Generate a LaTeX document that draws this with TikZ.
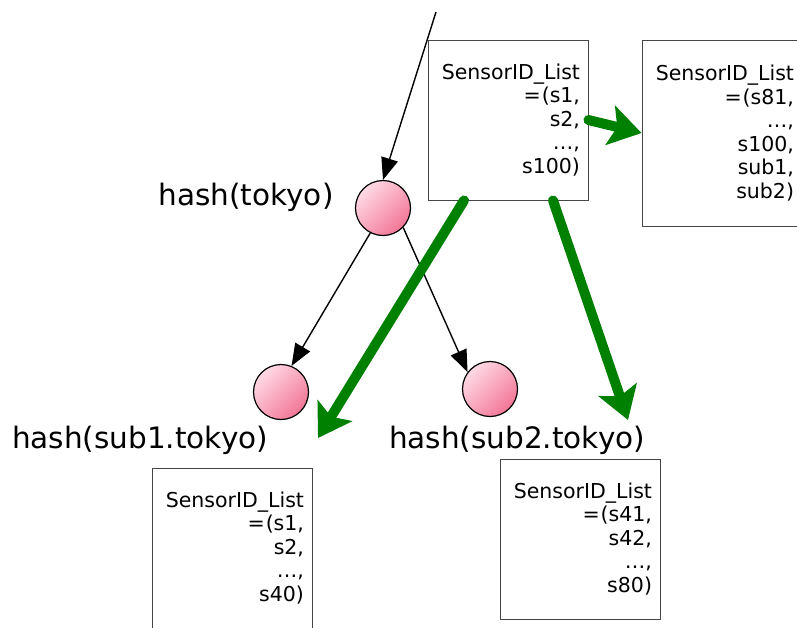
\documentclass[tikz,border=0pt]{standalone}
\usepackage{fontspec}
\setmainfont{DejaVu Sans}
\usetikzlibrary{arrows.meta}
\definecolor{flowgreen}{RGB}{0,128,0}
\definecolor{ballhi}{RGB}{255,218,230}
\definecolor{ballmid}{RGB}{250,165,188}
\definecolor{balllo}{RGB}{242,118,150}
\definecolor{boxline}{RGB}{70,70,70}

\begin{document}
\begin{tikzpicture}[
    x=1pt,y=-1pt,
    hashnode/.style={circle,draw,line width=1.2pt,minimum size=55pt,inner sep=0pt,
      top color=ballhi,middle color=ballmid,bottom color=balllo,shading angle=45},
    hashlbl/.style={font=\fontsize{29.5}{34}\selectfont,inner sep=0pt},
    idlist/.style={draw=boxline,line width=0.9pt,minimum width=160pt,
      minimum height=#1,text width=144pt,inner sep=8pt,align=right,
      font=\fontsize{20.5}{23.5}\selectfont},
    idlist/.default=160pt,
    link/.style={-{Triangle[length=22pt,width=17pt]},line width=1.4pt},
    push/.style={-{Stealth[length=32pt,width=40pt,inset=7pt]},line width=10pt,
      flowgreen,line cap=round}
  ]
  \useasboundingbox (0,0) rectangle (797,627);
  \clip (0,0) rectangle (797,627);

  % hash nodes and their keys
  \node[hashnode] (root) at (383,208) {};
  \node[hashnode] (sub1) at (281,392) {};
  \node[hashnode] (sub2) at (490,389) {};
  \node[hashlbl] (rootlbl) at (246,197) {hash(tokyo)};
  \node[hashlbl] (sub1lbl) at (140,440) {hash(sub1.tokyo)};
  \node[hashlbl] (sub2lbl) at (517,440) {hash(sub2.tokyo)};

  % sensor lists
  \node[idlist] (list0) at (508,120)
    {SensorID\_List\\=\kern1pt(s1,\\s2,\\…,\\s100)};
  \node[idlist=186pt] (list0b) at (722,133)
    {SensorID\_List\\=\kern1pt(s81,\\…,\\s100,\\sub1,\\sub2)};
  \node[idlist] (list1) at (232,548)
    {SensorID\_List\\=\kern1pt(s1,\\s2,\\…,\\s40)};
  \node[idlist] (list2) at (580,539)
    {SensorID\_List\\=\kern1pt(s41,\\s42,\\…,\\s80)};

  % lookups
  \coordinate (feed) at (436,12);
  \draw[link] (feed) -- (root.north);
  \draw[link] (root.-117) -- (sub1.68);
  \draw[link] (root.-44) -- (sub2.143);

  % list splitting
  \coordinate (drop1) at (318,438);
  \coordinate (drop2) at (628,420);
  \draw[push] ([xshift=-44pt]list0.south) -- (drop1);
  \draw[push] ([xshift=45pt]list0.south) -- (drop2);
  \draw[push] (list0.east) -- (list0b.west);
\end{tikzpicture}
\end{document}
